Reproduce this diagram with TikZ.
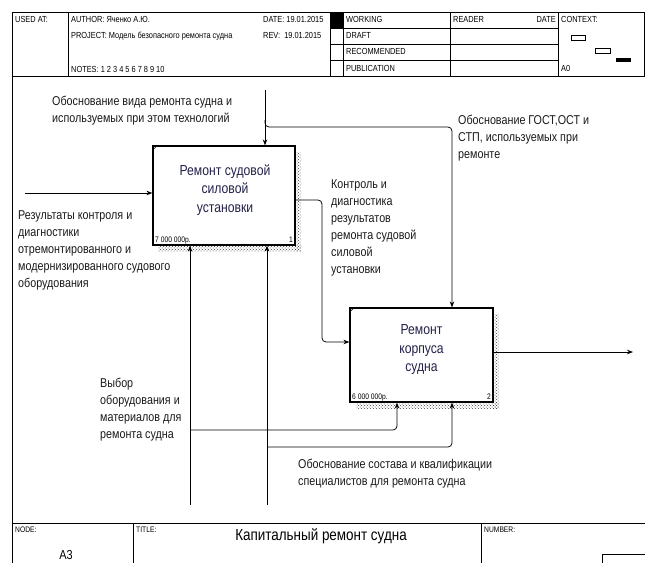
\documentclass[tikz,border=0pt]{standalone}
\usepackage{fontspec}
\setmainfont{Liberation Sans}[FakeStretch=0.84]
\usepackage{xcolor}
\usetikzlibrary{patterns,arrows.meta}
\definecolor{box-navy}{HTML}{22224A}
\definecolor{label-gray}{HTML}{1A1A1A}

\begin{document}
\begin{tikzpicture}[x=1pt, y=-1pt,
    func/.style={draw, line width=1.2pt, fill=white, inner sep=0pt},
    hatch/.style={pattern=crosshatch dots, pattern color=black!75},
    title/.style={font=\fontsize{14.5}{18.5}\selectfont, text=box-navy, align=center, inner sep=0pt},
    lbl/.style={font=\fontsize{12.8}{17}\selectfont, text=label-gray, align=left, anchor=north west, inner sep=0pt},
    hdr/.style={font=\fontsize{8.8}{9}\selectfont, anchor=base west, inner sep=0pt},
    tiny/.style={font=\fontsize{8}{8}\selectfont, inner sep=0pt},
    arrow/.style={-{Stealth[length=6pt,width=4.5pt]}, line width=0.75pt, rounded corners=4pt}
]
    \useasboundingbox (0,0) rectangle (645,563);

    % form frame
    \draw[line width=0.8pt] (12,563) -- (12,12) -- (644,12) -- (644,76) -- (12,76);
    \draw[line width=0.8pt] (68,12) -- (68,76) (330,12) -- (330,76) (343,12) -- (343,76)
        (450,12) -- (450,76) (558,12) -- (558,76);
    \draw[line width=0.6pt] (330,28) -- (558,28) (330,44) -- (558,44) (330,60) -- (558,60);
    \fill (330,12) rectangle (343,28);
    \draw[line width=0.6pt] (571,35) rectangle (585,40) (595,48) rectangle (610,53);
    \fill (616,58) rectangle (631,62);

    \node[hdr] (usedat) at (15,22) {USED AT:};
    \node[hdr] (author) at (71,22) {AUTHOR: Яченко А.Ю.};
    \node[hdr] (date) at (263,22) {DATE: 19.01.2015};
    \node[hdr] (project) at (71,38) {PROJECT: Модель безопасного ремонта судна};
    \node[hdr] (rev) at (263,38) {REV:\ \ 19.01.2015};
    \node[hdr] (notes) at (71,72) {NOTES: 1\ 2\ 3\ 4\ 5\ 6\ 7\ 8\ 9\ 10};
    \node[hdr] (working) at (346,22) {WORKING};
    \node[hdr] (draft) at (346,38) {DRAFT};
    \node[hdr] (recom) at (346,54) {RECOMMENDED};
    \node[hdr] (public) at (346,71) {PUBLICATION};
    \node[hdr] (reader) at (453,22) {READER};
    \node[hdr, anchor=base east] (rdate) at (556,22) {DATE};
    \node[hdr] (context) at (561,22) {CONTEXT:};
    \node[hdr] (ctxnode) at (561,71) {A0};

    \draw[line width=0.8pt] (12,523) -- (645,523) (133,523) -- (133,563) (481,523) -- (481,563);
    \draw[line width=0.6pt] (602,563) -- (602,554) -- (645,554);
    \node[tiny, anchor=base west] (nodehdr) at (15,532) {NODE:};
    \node[tiny, anchor=base west] (titlehdr) at (136,532) {TITLE:};
    \node[tiny, anchor=base west] (numhdr) at (484,532) {NUMBER:};
    \node[font=\fontsize{13}{14}\selectfont, anchor=base, inner sep=0pt] (nodeid) at (66,559) {A3};
    \node[font=\fontsize{16}{18}\selectfont, anchor=base, inner sep=0pt] (diagtitle) at (321,540) {Капитальный ремонт судна};

    % shadows
    \fill[hatch] (295,152) rectangle (301,251);
    \fill[hatch] (158,245) rectangle (301,251);
    \fill[hatch] (493,314) rectangle (499,408);
    \fill[hatch] (356,402) rectangle (499,408);

    % activities
    \node[func, minimum width=142pt, minimum height=99pt] (b1) at (224,195.5) {};
    \node[func, minimum width=143pt, minimum height=94pt] (b2) at (421.5,355) {};
    \draw[line width=0.5pt] ([yshift=-5pt]b1.north west) -- ([xshift=5pt]b1.north west);
    \draw[line width=0.5pt] ([yshift=-5pt]b2.north west) -- ([xshift=5pt]b2.north west);
    \node[title] (t1) at (225,190) {Ремонт судовой\\силовой\\установки};
    \node[title] (t2) at (421.5,350) {Ремонт\\корпуса\\судна};
    \node[tiny, anchor=base west] (cost1) at (155,242) {7 000 000р.};
    \node[tiny, anchor=base east] (num1) at (293,242) {1};
    \node[tiny, anchor=base west] (cost2) at (352,399) {6 000 000р.};
    \node[tiny, anchor=base east] (num2) at (491,399) {2};

    % arrows
    \coordinate (in1) at (25,193);
    \coordinate (ctl1) at (265,90);
    \coordinate (ctl2a) at (265,120);
    \coordinate (ctl2b) at (452,127);
    \coordinate (out1a) at (322,200);
    \coordinate (out1b) at (322,342);
    \coordinate (out2) at (633,352);
    \coordinate (mech1) at (190,505);
    \coordinate (mech2) at (267,505);
    \coordinate (mech3) at (397,430);
    \coordinate (mech4) at (452,447);

    \draw[arrow] (in1) -- (in1 -| b1.west);
    \draw[arrow] (ctl1) -- (ctl1 |- b1.north);
    \draw[arrow] (ctl2a) |- (ctl2b) -- (ctl2b |- b2.north);
    \draw[arrow] (out1a -| b1.east) -- (out1a) -- (out1b) -- (out1b -| b2.west);
    \draw[arrow] (out2 -| b2.east) -- (out2);
    \draw[arrow] (mech1) -- (mech1 |- b1.south);
    \draw[arrow] (mech2) -- (mech2 |- b1.south);
    \draw[arrow] (mech3 -| mech1) -- (mech3) -- (mech3 |- b2.south);
    \draw[arrow] (mech4 -| mech2) -- (mech4) -- (mech4 |- b2.south);

    % labels
    \node[lbl] (lctl1) at (52,96) {Обоснование вида ремонта судна и\\используемых при этом технологий};
    \node[lbl] (lin1) at (18,210) {Результаты контроля и\\диагностики\\отремонтированного и\\модернизированного судового\\оборудования};
    \node[lbl] (lout1) at (331,179) {Контроль и\\диагностика\\результатов\\ремонта судовой\\силовой\\установки};
    \node[lbl] (lctl2) at (458,115) {Обоснование ГОСТ,ОСТ и\\СТП, используемых при\\ремонте};
    \node[lbl] (lmech1) at (100,378) {Выбор\\оборудования и\\материалов для\\ремонта судна};
    \node[lbl] (lmech2) at (298,459) {Обоснование состава и квалификации\\специалистов для ремонта судна};
\end{tikzpicture}
\end{document}
